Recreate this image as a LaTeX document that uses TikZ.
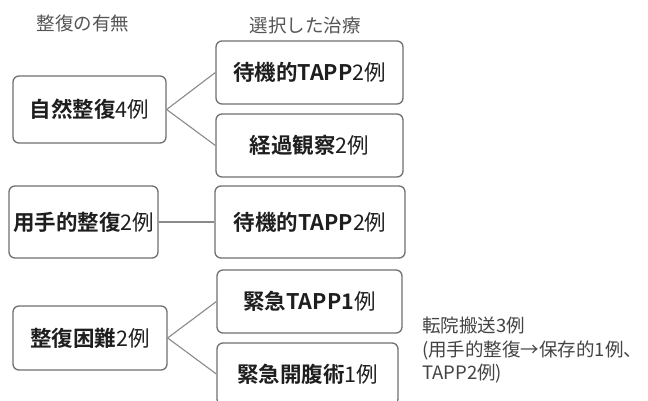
\documentclass[tikz,border=0pt]{standalone}
\usepackage{fontspec}
\newfontfamily\jp{Noto Sans CJK JP}[BoldFont={Noto Sans CJK JP Bold}]
\definecolor{boxline}{HTML}{707070}
\definecolor{conn}{HTML}{8A8A8A}
\definecolor{txt}{HTML}{1E1E1E}
\definecolor{head}{HTML}{555555}
\begin{document}
\begin{tikzpicture}[x=1pt,y=-1pt,
  box/.style={draw=boxline,line width=1.3pt,rounded corners=6pt,inner sep=0pt,text=txt,font=\jp\fontsize{21.5}{25}\selectfont},
  conline/.style={draw=conn,line width=1.1pt},
  hd/.style={text=head,font=\jp\fontsize{18.5}{22}\selectfont,inner sep=0pt}]
\useasboundingbox (0,0) rectangle (648,401);
\clip (0,0) rectangle (648,401);
\fill[white] (0,0) rectangle (648,401);
\node[hd] (h1) at (83,23) {整復の有無};
\node[hd] (h2) at (305,25) {選択した治療};
% left boxes
\node[box,minimum width=153pt,minimum height=67pt] (l1) at (89.5,109.5) {\textbf{自然整復}4例};
\node[box,minimum width=149pt,minimum height=72pt] (l2) at (83.5,222) {\textbf{用手的整復}2例};
\node[box,minimum width=154pt,minimum height=64pt] (l3) at (90,338) {\textbf{整復困難}2例};
% right boxes
\node[box,minimum width=187pt,minimum height=63pt] (r1) at (309.5,72.5) {\textbf{待機的TAPP}2例};
\node[box,minimum width=187pt,minimum height=63pt] (r2) at (309.5,145.5) {\textbf{経過観察}2例};
\node[box,minimum width=190pt,minimum height=72pt] (r3) at (310,222) {\textbf{待機的TAPP}2例};
\node[box,minimum width=185pt,minimum height=63pt] (r4) at (309.5,301.5) {\textbf{緊急TAPP1}例};
\node[box,minimum width=181pt,minimum height=62pt] (r5) at (307.5,374) {\textbf{緊急開腹術}1例};
% connectors
\draw[conline] (l1.east) -- (r1.west);
\draw[conline] (l1.east) -- (r2.west);
\draw[conline] (l2.east) -- (r3.west);
\draw[conline] (l3.east) -- (r4.west);
\draw[conline] (l3.east) -- (r5.west);
% note
\node[anchor=north west,align=left,inner sep=0pt,text=head!80!black,font=\jp\fontsize{18.5}{23.5}\selectfont] (note) at (422,317) {転院搬送3例\\(用手的整復→保存的1例、\\TAPP2例)};
\end{tikzpicture}
\end{document}
